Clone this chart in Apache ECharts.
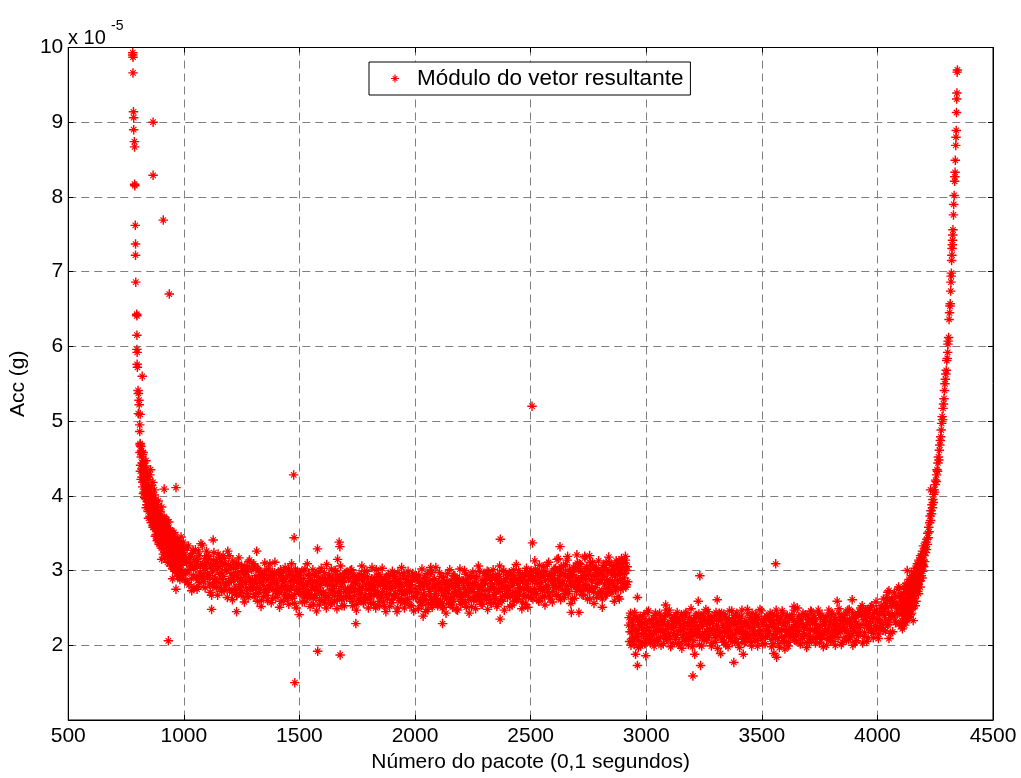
<!DOCTYPE html>
<html><head><meta charset="utf-8">
<script src="https://cdn.jsdelivr.net/npm/echarts/dist/echarts.min.js"></script>
<style>html,body{margin:0;padding:0;background:#fff;}#c{width:1021px;height:778px;}</style>
</head><body><div id="c"></div>
<script>
// Values in units of 1e-5 g (axis shows "x 10^-5")
const seriesName = 'Módulo do vetor resultante';
const xTicks = [500, 1000, 1500, 2000, 2500, 3000, 3500, 4000, 4500];
const yTicks = [2, 3, 4, 5, 6, 7, 8, 9, 10];

// left start-up tail: [packet, acc]
const tailLeft = [[779,9.90],[779,9.93],[780,9.87],[780,9.66],[782,9.14],[783,9.06],[783,8.90],[786,8.74],[787,8.67],[787,8.17],[788,8.15],[790,7.62],[791,7.37],[791,7.22],[792,6.86],[796,6.43],[797,6.41],[797,6.15],[797,5.96],[798,5.92],[798,5.76],[799,5.72],[802,5.41],[803,5.37],[806,5.28],[807,5.22],[803,5.10],[811,5.09],[809,4.95],[809,4.86],[811,4.68]];

// decaying curve, even packets 810..1000
const curveLeftStart = 810, curveLeftStep = 2;
const curveLeft = [4.58,4.33,4.66,4.52,4.25,4.44,4.12,4.58,4.31,4.05,
4.38,4.20,3.96,4.47,4.15,3.88,4.29,4.02,3.79,4.22,
3.95,4.10,3.72,4.35,3.86,4.04,3.68,3.92,4.18,3.60,
3.83,4.01,3.55,3.77,3.94,3.48,3.71,3.88,3.58,3.42,
3.80,3.63,3.37,3.74,3.51,3.66,3.33,3.85,3.47,3.60,
3.29,3.55,3.72,3.40,3.24,3.62,3.45,3.31,3.68,3.50,
3.19,3.38,3.57,3.26,3.44,3.12,3.53,3.35,3.21,3.47,
3.08,3.30,3.49,3.16,3.39,3.02,3.25,3.44,3.11,3.33,
2.97,3.20,3.41,3.06,3.28,2.93,3.37,3.14,3.01,3.45,
3.22,2.90,3.31,3.10,3.38,2.96];
// decaying curve, odd packets 811..999
const curveLeft2Start = 811, curveLeft2Step = 2;
const curveLeft2 = [4.70,4.41,4.22,4.60,4.36,4.55,4.18,4.03,4.47,4.26,
3.98,4.40,4.08,3.84,4.33,4.11,3.92,4.25,3.70,4.06,
3.89,4.28,3.81,4.00,3.64,4.14,3.75,3.97,3.58,3.90,
3.69,4.08,3.62,3.46,3.85,3.57,3.78,3.40,3.69,3.93,
3.52,3.35,3.62,3.79,3.43,3.58,3.30,3.71,3.39,3.52,
3.22,3.64,3.47,3.17,3.55,3.36,3.60,3.24,3.43,3.11,
3.49,3.31,3.65,3.18,3.40,3.54,3.06,3.27,3.42,3.14,
3.36,3.02,3.23,3.51,3.09,3.32,2.99,3.18,3.40,3.05,
3.27,2.92,3.15,3.36,3.00,3.24,2.88,3.30,3.07,2.95,
3.19,3.34,2.98,3.12,3.27];

// first plateau, packets 1004..2920 every 4
const bandAStart = 1004, bandAStep = 4;
const bandA = [
3.22,2.96,3.10,2.84,3.33,3.01,3.18,2.89,3.06,3.27,2.77,3.14,3.03,3.15,2.90,3.25,2.84,3.07,2.94,3.34,2.88,3.03,2.77,3.11,3.20,
2.90,3.19,2.82,3.06,2.67,2.98,3.14,2.88,3.09,2.77,3.02,3.22,2.84,2.95,3.12,2.72,3.07,2.92,3.16,2.80,3.01,2.64,3.08,3.20,2.89,
2.96,2.71,3.13,2.86,2.76,3.03,2.67,2.91,3.08,2.79,2.88,2.73,3.00,2.65,2.95,3.06,2.84,2.98,2.69,2.90,3.14,2.78,3.02,2.87,2.75,
2.65,2.87,2.93,2.77,3.03,2.70,2.84,2.98,2.60,2.91,2.80,2.95,2.74,3.00,2.67,2.88,2.76,3.09,2.81,2.94,2.63,2.89,2.97,2.73,2.86,
2.82,2.97,2.71,2.93,2.59,2.87,2.77,2.99,2.68,2.80,2.90,2.63,3.02,2.74,2.85,2.66,2.95,2.79,2.88,2.56,2.92,2.75,2.98,2.72,2.84,
2.91,2.84,2.58,2.78,2.66,3.02,2.71,2.81,2.63,2.95,2.68,2.87,2.75,2.83,2.55,2.93,2.77,2.64,2.86,2.73,2.98,2.60,2.80,2.69,2.89,
2.71,2.97,2.87,2.50,2.81,2.64,2.94,2.74,2.86,2.57,2.90,2.76,2.67,2.99,2.82,2.61,2.88,2.70,2.92,2.79,2.53,2.85,2.65,2.96,2.72,
2.64,2.75,2.89,2.67,3.00,2.78,2.59,2.85,2.72,2.92,2.82,2.55,2.87,2.62,2.76,2.68,2.94,2.79,2.57,2.90,2.65,2.74,2.99,2.61,2.83,
2.78,2.65,2.89,2.81,2.55,2.86,2.73,3.01,2.68,2.80,2.59,2.92,2.66,2.87,2.72,2.83,2.52,2.90,2.76,2.62,2.95,2.69,2.85,2.79,2.57,
2.78,2.66,2.92,2.69,2.86,2.50,2.82,2.73,2.89,2.60,2.79,2.68,2.96,2.57,2.84,2.74,2.62,2.93,2.71,2.81,2.53,2.87,2.65,2.91,2.76,
2.64,2.88,2.70,2.94,2.59,2.79,2.53,2.84,2.75,2.66,2.91,2.61,2.81,2.48,2.86,2.72,2.97,2.57,2.78,2.63,2.89,2.69,2.82,2.55,2.74,
2.84,2.57,2.77,2.92,2.67,2.51,2.86,2.73,2.62,2.96,2.70,2.81,2.55,2.87,2.65,2.78,2.59,2.93,2.72,2.83,2.47,2.80,2.89,2.68,2.61,
2.86,2.66,2.77,2.57,2.95,2.70,2.83,2.61,2.74,2.90,2.52,2.80,2.72,2.84,2.65,2.92,2.60,2.78,2.68,2.99,2.63,2.75,2.55,2.81,2.88,
2.83,2.61,2.99,2.74,2.65,2.90,2.57,2.79,2.94,2.68,2.76,2.62,2.87,2.55,2.82,2.92,2.72,2.85,2.59,2.78,3.00,2.67,2.89,2.75,2.64,
2.73,2.97,2.66,2.86,2.54,2.80,2.93,2.71,2.89,2.62,2.83,3.00,2.68,2.77,2.91,2.58,2.87,2.75,2.95,2.65,2.82,2.51,2.88,2.98,2.72,
2.64,2.86,2.92,2.76,3.02,2.69,2.83,2.97,2.59,2.90,2.79,2.94,2.73,2.99,2.66,2.87,2.75,3.08,2.80,2.93,2.62,2.88,2.96,2.72,2.85,
2.88,3.03,2.77,2.99,2.65,2.93,2.83,3.05,2.74,2.86,2.96,2.69,3.08,2.80,2.91,2.72,3.01,2.85,2.94,2.62,2.98,2.81,3.04,2.78,2.90,
2.78,3.02,2.84,3.08,2.73,2.93,2.67,2.98,2.89,2.80,3.05,2.75,2.95,2.62,3.00,2.86,3.11,2.71,2.92,2.77,3.03,2.83,2.96,2.69,2.88,
2.99,2.72,2.92,3.07,2.82,2.66,3.01,2.88,2.77,3.11,2.85,2.96,2.70,3.02,2.80,2.93,2.74,3.08,2.87,2.98,2.62,2.95,3.04,2.83,2.76,
2.90,3.10,2.78,3.00,2.85];
// first plateau, packets 1006..2918 every 4
const bandA2Start = 1006, bandA2Step = 4;
const bandA2 = [
2.87,3.15,3.30,3.00,2.81,3.18,3.10,2.73,3.23,2.94,3.05,3.28,2.90,3.12,2.79,3.20,2.98,3.36,2.92,3.08,2.85,3.16,3.03,3.26,2.96,
3.15,2.93,2.71,3.08,3.02,2.79,3.24,2.84,2.90,3.12,2.67,3.05,3.18,2.77,2.97,2.88,3.20,2.73,3.09,2.82,3.00,3.26,2.85,2.75,3.06,
2.86,2.61,3.03,2.93,2.75,3.10,2.68,2.97,3.17,2.81,2.71,3.06,2.85,2.99,2.58,2.94,2.77,3.05,2.64,3.12,2.87,2.74,3.01,2.82,3.09,
3.06,2.68,2.83,2.59,3.00,2.90,2.75,2.52,2.95,2.86,2.65,3.10,2.71,2.89,2.60,3.02,2.78,2.93,2.57,2.98,2.74,2.84,3.11,2.64,2.76,
2.69,2.96,2.51,3.01,2.77,2.90,2.59,2.85,3.04,2.66,2.93,2.74,2.55,2.98,2.78,3.09,2.63,2.87,2.68,3.02,2.50,2.92,2.83,2.72,2.97,
2.69,2.99,2.76,2.89,2.58,2.81,2.65,3.09,2.71,2.93,2.52,2.85,2.63,3.01,2.78,2.67,2.96,2.46,2.83,2.91,2.54,2.73,3.03,2.88,2.60,
2.88,2.57,2.67,3.08,2.82,2.64,2.91,2.55,3.02,2.70,2.79,2.59,3.00,2.87,2.49,2.94,2.72,2.66,3.06,2.61,2.84,2.90,2.53,2.75,2.97,
2.98,2.71,2.90,2.63,2.76,3.01,2.53,2.94,2.66,2.83,2.47,2.88,2.74,2.95,2.60,2.70,3.06,2.86,2.57,2.99,2.64,2.82,2.92,2.50,2.75,
2.69,2.57,3.04,2.77,2.67,2.91,2.50,2.86,2.71,2.95,2.53,2.82,2.64,3.03,2.58,2.79,2.88,2.45,2.68,2.83,2.93,2.52,2.76,2.61,2.99,
2.92,2.67,2.78,2.87,2.45,2.97,2.63,2.82,2.58,3.04,2.73,2.93,2.50,2.69,2.88,2.61,2.99,2.80,2.54,2.85,2.72,2.96,2.46,2.91,2.64,
2.93,2.71,2.49,2.86,2.80,2.57,3.02,2.62,2.68,2.90,2.45,2.83,2.96,2.55,2.75,2.66,2.98,2.51,2.87,2.60,2.78,3.04,2.63,2.53,2.84,
2.97,2.59,2.74,2.50,2.91,2.81,2.66,2.43,2.86,2.77,2.56,3.01,2.62,2.80,2.51,2.93,2.69,2.84,2.48,2.89,2.65,2.75,3.02,2.55,2.67,
2.57,2.85,3.00,2.70,2.51,2.88,2.80,2.43,2.93,2.64,2.75,2.98,2.60,2.82,2.49,2.90,2.68,3.06,2.62,2.78,2.55,2.86,2.73,2.96,2.66,
2.66,2.93,2.48,2.98,2.74,2.87,2.56,2.82,3.01,2.63,2.90,2.71,2.52,2.95,2.75,3.06,2.60,2.84,2.65,2.99,2.47,2.89,2.80,2.69,2.94,
2.77,2.52,2.94,2.84,2.66,3.01,2.59,2.88,3.08,2.72,2.62,2.97,2.76,2.90,2.49,2.85,2.68,2.96,2.55,3.03,2.78,2.65,2.92,2.73,3.00,
2.93,2.62,2.72,3.13,2.87,2.69,2.96,2.60,3.07,2.75,2.84,2.64,3.05,2.92,2.54,2.99,2.77,2.71,3.11,2.66,2.89,2.95,2.58,2.80,3.02,
2.80,2.68,3.15,2.88,2.78,3.02,2.61,2.97,2.82,3.06,2.64,2.93,2.75,3.14,2.69,2.90,2.99,2.56,2.79,2.94,3.04,2.63,2.87,2.72,3.10,
2.79,3.09,2.86,2.99,2.68,2.91,2.75,3.19,2.81,3.03,2.62,2.95,2.73,3.11,2.88,2.77,3.06,2.56,2.93,3.01,2.64,2.83,3.13,2.98,2.70,
2.87,2.62,3.04,2.94,2.76,3.11,2.69,2.98,3.18,2.82,2.72,3.07,2.86,3.00,2.59,2.95,2.78,3.06,2.65,3.13,2.88,2.75,3.02,2.83,3.10,
2.96,3.14,2.81,3.05];

// second plateau, packets 2924..4100 every 4
const bandBStart = 2924, bandBStep = 4;
const bandB = [
2.27,2.05,2.43,2.18,2.09,2.34,2.01,2.23,2.38,2.12,2.20,2.06,2.31,1.99,2.26,2.36,2.16,2.29,2.03,2.22,2.44,2.11,2.33,2.19,2.08,
2.34,2.14,2.25,2.05,2.43,2.18,2.31,2.09,2.22,2.38,2.00,2.28,2.20,2.32,2.13,2.40,2.08,2.26,2.16,2.47,2.11,2.23,2.03,2.29,2.36,
2.24,2.39,2.13,2.35,2.01,2.29,2.19,2.41,2.10,2.22,2.32,2.05,2.44,2.16,2.27,2.08,2.37,2.21,2.30,1.98,2.34,2.17,2.40,2.14,2.26,
2.18,2.42,2.11,2.31,1.99,2.25,2.38,2.16,2.34,2.07,2.28,2.45,2.13,2.22,2.36,2.03,2.32,2.20,2.40,2.10,2.27,1.96,2.33,2.43,2.17,
2.34,2.07,2.27,2.42,2.17,2.01,2.36,2.23,2.12,2.46,2.20,2.31,2.05,2.37,2.15,2.28,2.09,2.43,2.22,2.33,1.97,2.30,2.39,2.18,2.11,
2.04,2.26,2.32,2.16,2.42,2.09,2.23,2.37,1.99,2.30,2.19,2.34,2.13,2.39,2.06,2.27,2.15,2.48,2.20,2.33,2.02,2.28,2.36,2.12,2.25,
2.13,2.37,2.19,2.43,2.08,2.28,2.02,2.33,2.24,2.15,2.40,2.10,2.30,1.97,2.35,2.21,2.46,2.06,2.27,2.12,2.38,2.18,2.31,2.04,2.23,
2.11,2.22,2.36,2.14,2.47,2.25,2.06,2.32,2.19,2.39,2.29,2.02,2.34,2.09,2.23,2.15,2.41,2.26,2.04,2.37,2.12,2.21,2.46,2.08,2.30,
2.36,2.29,2.03,2.23,2.11,2.47,2.16,2.26,2.08,2.40,2.13,2.32,2.20,2.28,2.00,2.38,2.22,2.09,2.31,2.18,2.43,2.05,2.25,2.14,2.34,
2.29,2.17,2.43,2.20,2.37,2.01,2.33,2.24,2.40,2.11,2.30,2.19,2.47,2.08,2.35,2.25,2.13,2.44,2.22,2.32,2.04,2.38,2.16,2.42,2.27,
2.24,2.50,2.40,2.03,2.34,2.17,2.47,2.27,2.39,2.10,2.44,2.30,2.21,2.53,2.36,2.16,2.43,2.26,2.47,2.35,2.09,2.42,2.23,2.53,2.30,
2.20,2.45,2.52,2.34,2.64,2.27,2.43,2.60,2.16,2.53,2.42,2.58,2.38,2.65,2.31,2.55,2.43,2.78,2.49,2.63];
// second plateau, packets 2926..4098 every 4
const bandB2Start = 2926, bandB2Step = 4;
const bandB2 = [
2.37,2.18,2.00,2.31,2.26,2.07,2.44,2.11,2.16,2.34,1.97,2.28,2.39,2.05,2.22,2.14,2.41,2.02,2.32,2.09,2.24,2.46,2.12,2.03,2.29,
2.14,2.36,1.99,2.40,2.20,2.31,2.05,2.27,2.43,2.11,2.34,2.18,2.02,2.38,2.21,2.47,2.09,2.29,2.13,2.41,1.98,2.33,2.25,2.16,2.37,
2.08,2.31,2.44,2.19,2.03,2.34,2.27,1.96,2.38,2.14,2.23,2.42,2.10,2.29,2.01,2.35,2.17,2.49,2.12,2.25,2.06,2.32,2.21,2.40,2.15,
2.22,2.01,2.36,2.28,2.13,2.42,2.07,2.31,2.48,2.18,2.10,2.39,2.21,2.33,1.99,2.29,2.15,2.38,2.04,2.44,2.23,2.12,2.35,2.19,2.41,
2.43,2.11,2.24,2.04,2.38,2.30,2.17,1.98,2.34,2.26,2.09,2.46,2.14,2.29,2.05,2.40,2.20,2.32,2.02,2.36,2.16,2.25,2.47,2.08,2.18,
2.31,2.05,2.14,2.48,2.26,2.11,2.34,2.04,2.43,2.16,2.24,2.07,2.41,2.30,1.99,2.36,2.18,2.13,2.46,2.09,2.28,2.33,2.02,2.20,2.39,
2.37,2.16,2.25,2.33,1.98,2.41,2.13,2.29,2.09,2.47,2.21,2.38,2.02,2.18,2.34,2.11,2.43,2.27,2.05,2.31,2.20,2.40,1.99,2.36,2.14,
2.16,2.41,2.22,2.33,2.07,2.26,2.13,2.50,2.18,2.36,2.02,2.30,2.11,2.43,2.24,2.15,2.39,1.97,2.28,2.35,2.04,2.20,2.45,2.32,2.09,
2.40,2.18,2.34,2.11,2.22,2.43,2.03,2.37,2.14,2.28,1.98,2.32,2.20,2.38,2.09,2.17,2.47,2.30,2.06,2.41,2.12,2.27,2.35,2.00,2.21,
2.20,2.10,2.49,2.27,2.18,2.38,2.04,2.34,2.22,2.42,2.07,2.31,2.16,2.48,2.11,2.28,2.36,2.00,2.19,2.32,2.40,2.06,2.26,2.13,2.45,
2.17,2.40,2.53,2.28,2.12,2.43,2.36,2.05,2.47,2.23,2.32,2.51,2.19,2.38,2.10,2.44,2.26,2.58,2.21,2.34,2.15,2.41,2.30,2.49,2.24,
2.62,2.40,2.19,2.56,2.50,2.28,2.73,2.34,2.40,2.62,2.18,2.56,2.70,2.30,2.50,2.42,2.75,2.28,2.66];

// start of the final rise, even packets 4102..4200
const riseRightStart = 4102, riseRightStep = 2;
const riseRight = [2.30,2.58,2.41,2.22,2.52,2.70,2.36,2.48,2.27,2.63,
2.44,2.76,2.51,2.33,2.60,2.46,2.81,2.55,2.38,2.68,
2.50,2.85,2.62,2.43,2.74,2.90,2.57,2.79,2.66,2.95,
2.71,2.53,2.87,3.00,2.76,2.92,2.81,3.06,2.69,2.97,
3.11,2.86,3.02,3.17,2.93,3.08,3.22,2.99,3.14,3.05];
// start of the final rise, odd packets 4101..4199
const riseRight2Start = 4101, riseRight2Step = 2;
const riseRight2 = [2.52,2.26,2.66,2.44,2.31,2.59,2.47,2.78,2.40,2.55,
2.32,2.69,2.58,2.83,2.45,2.74,2.37,2.62,2.88,2.53,
2.77,2.41,2.70,2.93,2.60,2.82,2.49,2.72,2.98,2.63,
2.87,3.03,2.75,2.59,2.91,2.82,3.09,2.72,2.96,3.14,
2.86,3.04,2.78,3.20,3.00,3.13,2.90,3.26,3.07,3.33];

// steep final tail: [packet, acc]
const tailRight = [[4202,3.20],[4204,3.12],[4206,3.30],[4208,3.24],[4210,3.38],[4212,3.28],[4214,3.42],[4216,3.35],[4218,3.50],[4220,3.44],[4222,3.58],[4224,3.52],[4226,3.64],[4228,3.73],[4230,3.67],[4232,3.80],[4234,3.76],[4236,3.88],[4238,3.84],[4240,3.95],[4242,3.91],[4244,4.02],[4246,4.08],[4248,4.05],[4250,4.15],[4252,4.21],[4254,4.19],[4256,4.28],[4258,4.35],[4260,4.33],[4262,4.44],[4264,4.52],[4266,4.48],[4268,4.61],[4270,4.68],[4272,4.74],[4274,4.79],[4276,4.88],[4278,4.97],[4280,5.06],[4282,5.02],[4284,5.17],[4286,5.23],[4288,5.30],[4290,5.41],[4292,5.50],[4294,5.56],[4296,5.63],[4298,5.68],[4300,5.81],[4302,5.84],[4304,5.92],[4305,6.03],[4306,6.07],[4308,6.12],[4310,6.36],[4312,6.45],[4314,6.54],[4315,6.57],[4317,6.74],[4318,6.86],[4319,6.94],[4320,6.98],[4321,7.15],[4322,7.22],[4323,7.31],[4324,7.36],[4325,7.42],[4326,7.49],[4327,7.56],[4329,7.76],[4330,7.90],[4332,8.02],[4334,8.21],[4335,8.27],[4336,8.33],[4337,8.49],[4339,8.69],[4340,8.80],[4341,8.89],[4342,9.13],[4343,9.31],[4344,9.39],[4345,9.67],[4346,9.70]];

// isolated points: [packet, acc]
const outliers = [[867,9.00],[867,8.29],[911,7.69],[937,6.70],[820,5.60],[915,4.09],[966,4.11],[933,2.06],[904,3.15],[951,2.89],[966,2.75],[1057,2.75],[1127,3.41],[1315,3.26],[1120,2.48],[1228,2.45],[1475,4.28],[1477,3.44],[1480,1.50],[1499,2.41],[1578,3.29],[1579,1.92],[1665,3.15],[1672,3.38],[1675,3.32],[1676,1.87],[1744,2.29],[2035,2.39],[2068,3.04],[2119,2.29],[2368,2.35],[2369,3.42],[2506,5.20],[2508,3.37],[2627,3.32],[2620,3.16],[2660,3.19],[2700,3.21],[2735,3.17],[2755,3.20],[2870,3.13],[2893,3.16],[2910,3.19],[2676,2.44],[2709,2.44],[2810,2.51],[2962,2.64],[2954,1.88],[2962,1.73],[2998,1.86],[3084,2.54],[3202,1.59],[3210,1.88],[3225,2.59],[3232,2.93],[3235,1.73],[3307,2.61],[3322,1.89],[3379,1.77],[3420,1.88],[3552,1.89],[3560,3.09],[3564,1.84],[3600,1.95],[3639,2.52],[3826,2.59],[3891,2.61],[4045,2.71],[4050,2.09],[4129,3.00],[4155,2.33],[4230,4.08]];

function seq(start, step, arr) { return arr.map((v, i) => [start + step * i, v]); }
const points = [].concat(
  tailLeft,
  seq(curveLeftStart, curveLeftStep, curveLeft),
  seq(curveLeft2Start, curveLeft2Step, curveLeft2),
  seq(bandAStart, bandAStep, bandA),
  seq(bandA2Start, bandA2Step, bandA2),
  seq(bandBStart, bandBStep, bandB),
  seq(bandB2Start, bandB2Step, bandB2),
  seq(riseRightStart, riseRightStep, riseRight),
  seq(riseRight2Start, riseRight2Step, riseRight2),
  tailRight,
  outliers
);

const STAR = 'path://M4.25,0L5.75,0L5.75,4.25L10,4.25L10,5.75L5.75,5.75L5.75,10L4.25,10L4.25,5.75L0,5.75L0,4.25L4.25,4.25Z' +
  'M2.5,1.7L8.3,7.5L7.5,8.3L1.7,2.5Z' +
  'M7.5,1.7L8.3,2.5L2.5,8.3L1.7,7.5Z';

const FONT = '"Liberation Sans", Arial, Helvetica, sans-serif';
const dash = { color: '#7f7f7f', width: 1, type: [8, 5] };

const chart = echarts.init(document.getElementById('c'), null, { renderer: 'canvas' });
chart.setOption({
  animation: false,
  backgroundColor: '#fff',
  textStyle: { fontFamily: FONT },
  grid: { left: 68, right: 28, top: 47.5, bottom: 53.5, show: true, borderColor: '#000', borderWidth: 1, backgroundColor: 'transparent' },
  legend: {
    show: true,
    left: 369, top: 62,
    padding: [5, 7, 5, 22],
    borderColor: '#000', borderWidth: 1,
    backgroundColor: '#fff',
    itemWidth: 8, itemHeight: 8,
    icon: STAR,
    itemStyle: { color: '#ff0000' },
    textStyle: { fontSize: 22.5, color: '#000', fontFamily: FONT, padding: [0, 0, 0, 13] },
    data: [seriesName]
  },
  xAxis: [{
    type: 'value', min: xTicks[0], max: xTicks[xTicks.length - 1], interval: 500,
    name: 'Número do pacote (0,1 segundos)', nameLocation: 'middle', nameGap: 32,
    nameTextStyle: { fontSize: 21, color: '#000', fontFamily: FONT },
    axisLine: { show: true, onZero: false, lineStyle: { color: '#000', width: 1 } },
    axisTick: { show: true, inside: true, length: 5, lineStyle: { color: '#000' } },
    axisLabel: { fontSize: 21, color: '#000', margin: 6, fontFamily: FONT,
      formatter: function (v) { return xTicks.indexOf(v) >= 0 ? String(v) : ''; } },
    splitLine: { show: true, lineStyle: dash }
  }, {
    type: 'value', position: 'top', min: xTicks[0], max: xTicks[xTicks.length - 1], interval: 500,
    axisLine: { show: true, onZero: false, lineStyle: { color: '#000' } },
    axisTick: { show: true, inside: true, length: 5, lineStyle: { color: '#000' } },
    axisLabel: { show: false }, splitLine: { show: false }
  }],
  yAxis: [{
    type: 'value', min: 1, max: yTicks[yTicks.length - 1], interval: 1,
    name: 'Acc (g)', nameLocation: 'middle', nameGap: 33,
    nameTextStyle: { fontSize: 21, color: '#000', fontFamily: FONT },
    axisLine: { show: true, onZero: false, lineStyle: { color: '#000', width: 1 } },
    axisTick: { show: true, inside: true, length: 5, lineStyle: { color: '#000' } },
    axisLabel: { fontSize: 21, color: '#000', margin: 5, fontFamily: FONT,
      formatter: function (v) { return yTicks.indexOf(v) >= 0 ? String(v) : ''; } },
    splitLine: { show: true, lineStyle: dash }
  }, {
    type: 'value', position: 'right', min: 1, max: yTicks[yTicks.length - 1], interval: 1,
    axisLine: { show: true, onZero: false, lineStyle: { color: '#000' } },
    axisTick: { show: true, inside: true, length: 5, lineStyle: { color: '#000' } },
    axisLabel: { show: false }, splitLine: { show: false }
  }],
  graphic: [
    { type: 'text', left: 68, top: 28, style: { text: 'x 10', font: '20px ' + FONT, fill: '#000' } },
    { type: 'text', left: 111, top: 19, style: { text: '-5', font: '14px ' + FONT, fill: '#000' } }
  ],
  series: [{
    name: seriesName,
    type: 'scatter',
    xAxisIndex: 0, yAxisIndex: 0,
    symbol: STAR,
    symbolSize: 9.5,
    itemStyle: { color: '#ff0000', opacity: 1 },
    data: points
  }]
});
</script></body></html>
